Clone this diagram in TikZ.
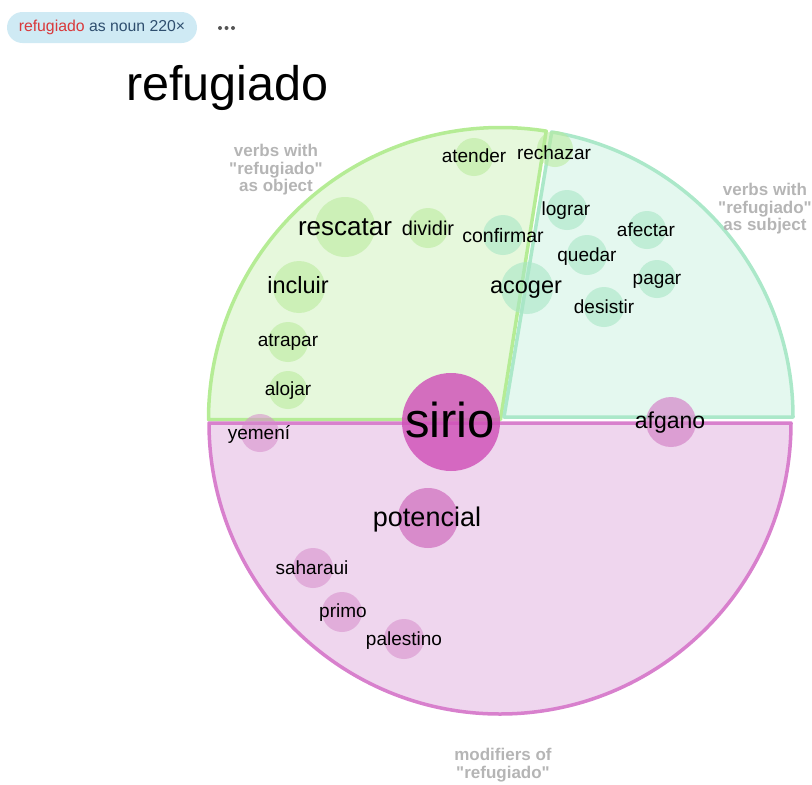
\documentclass[tikz,border=0pt]{standalone}
\usepackage{fontspec}
\setmainfont{Liberation Sans}[Ligatures=TeXOff]
\definecolor{gfillc}{HTML}{E6F8DC}
\definecolor{gline}{HTML}{B5EC95}
\definecolor{tfillc}{HTML}{E4F8EF}
\definecolor{tline}{HTML}{ABE8C9}
\definecolor{mfillc}{HTML}{EFD6EE}
\definecolor{mline}{HTML}{D880CD}
\definecolor{gbub}{HTML}{B8EA9A}
\definecolor{tbub}{HTML}{A8E6C6}
\definecolor{mbub}{HTML}{D68CCB}
\definecolor{sirioc}{HTML}{D050B8}
\definecolor{potc}{HTML}{D47FC6}
\definecolor{labelgray}{HTML}{B5B5B5}
\definecolor{pillc}{HTML}{CFEAF4}
\definecolor{pillred}{HTML}{D9383A}
\definecolor{pillblue}{HTML}{2F4F6F}
\definecolor{dotc}{HTML}{555555}
\tikzset{
  sector/.style={line width=3.5pt, line join=round},
  bub/.style={circle, inner sep=0pt, draw=none, minimum size=#1},
  gbubble/.style={bub=#1, fill=gbub, fill opacity=0.55},
  tbubble/.style={bub=#1, fill=tbub, fill opacity=0.6},
  mbubble/.style={bub=#1, fill=mbub, fill opacity=0.55},
  word/.style={inner sep=0pt, text depth=0pt, text=black, font=\fontsize{#1}{#1}\selectfont},
  word/.default=19,
  grouplabel/.style={inner sep=0pt, text=labelgray, align=center, font=\bfseries\fontsize{17}{17.5}\selectfont},
}
\begin{document}
\begin{tikzpicture}[x=1pt,y=-1pt]
\useasboundingbox (0,0) rectangle (812,785);
\clip (0,0) rectangle (812,785);
% pill and menu
\node[fill=pillc, rounded corners=15.5pt, minimum width=190pt, minimum height=31pt, inner sep=0pt, font=\fontsize{15.8}{15.8}\selectfont] (pill) at (102,27.5) {\textcolor{pillred}{refugiado} \textcolor{pillblue}{as noun 220×}};
\fill[dotc] (220,28) circle[radius=2] (226.5,28) circle[radius=2] (233,28) circle[radius=2];
% title
\node[anchor=base, inner sep=0pt, font=\fontsize{48.5}{48.5}\selectfont] (title) at (227.5,100) {refugiado};
% sectors
\filldraw[sector, fill=gfillc, draw=gline] (500.5,419.5) -- ++(-81:292) arc[start angle=-81, end angle=-180, radius=292] -- cycle;
\filldraw[sector, fill=tfillc, draw=tline] (504,417) -- ++(0:289) arc[start angle=0, end angle=-80.5, radius=289] -- cycle;
\filldraw[sector, fill=mfillc, draw=mline] (500,423) -- ++(180:291) arc[start angle=180, end angle=0, radius=291] -- cycle;
% group labels
\node[grouplabel] (lobj) at (276,170) {verbs with\\"refugiado"\\as object};
\node[grouplabel] (lsubj) at (765,209) {verbs with\\"refugiado"\\as subject};
\node[grouplabel] (lmod) at (503,765) {modifiers of\\"refugiado"};
% bubbles: object verbs
\node[gbubble=38] (b1) at (474,157) {};
\node[gbubble=36] (b2) at (555,149) {};
\node[gbubble=60] (b3) at (345,227) {};
\node[gbubble=40] (b4) at (428,228) {};
\node[gbubble=52] (b5) at (299,287) {};
\node[gbubble=40] (b6) at (288,342) {};
\node[gbubble=38] (b7) at (288,390) {};
% bubbles: subject verbs
\node[tbubble=40] (b8) at (503,235) {};
\node[tbubble=52] (b9) at (527,288) {};
\node[tbubble=40] (b10) at (567,210) {};
\node[tbubble=38] (b11) at (647,230) {};
\node[tbubble=40] (b12) at (587,255) {};
\node[tbubble=38] (b13) at (657,279) {};
\node[tbubble=40] (b14) at (604,307) {};
% bubbles: modifiers
\node[mbubble=38] (b15) at (260,433) {};
\node[bub=50, fill=mbub, fill opacity=0.75] (b16) at (671,422) {};
\node[bub=60, fill=potc, fill opacity=0.85] (b17) at (428,518) {};
\node[mbubble=40] (b18) at (313,568) {};
\node[mbubble=40] (b19) at (342,612) {};
\node[mbubble=40] (b20) at (404,639) {};
\node[bub=98, fill=sirioc, fill opacity=0.82] (b21) at (451,422) {};
% words
\node[word] (w1) at (474,156) {atender};
\node[word] (w2) at (554,153) {rechazar};
\node[word=26] (w3) at (345,227) {rescatar};
\node[word=20] (w4) at (428,228) {dividir};
\node[word=19.5] (w5) at (503,235) {confirmar};
\node[word=23.5] (w6) at (298,285) {incluir};
\node[word=23.5] (w7) at (526,287) {acoger};
\node[word] (w8) at (288,340) {atrapar};
\node[word] (w9) at (288,389) {alojar};
\node[word] (w10) at (259,432) {yemení};
\node[word=49] (w11) at (450,420) {sirio};
\node[word] (w12) at (566,209) {lograr};
\node[word] (w13) at (646,230) {afectar};
\node[word] (w14) at (587,255) {quedar};
\node[word] (w15) at (657,279) {pagar};
\node[word] (w16) at (604,307) {desistir};
\node[word=23] (w17) at (670,420) {afgano};
\node[word=27] (w18) at (427,517) {potencial};
\node[word] (w19) at (312,568) {saharaui};
\node[word] (w20) at (343,611) {primo};
\node[word] (w21) at (404,639) {palestino};
\end{tikzpicture}
\end{document}
